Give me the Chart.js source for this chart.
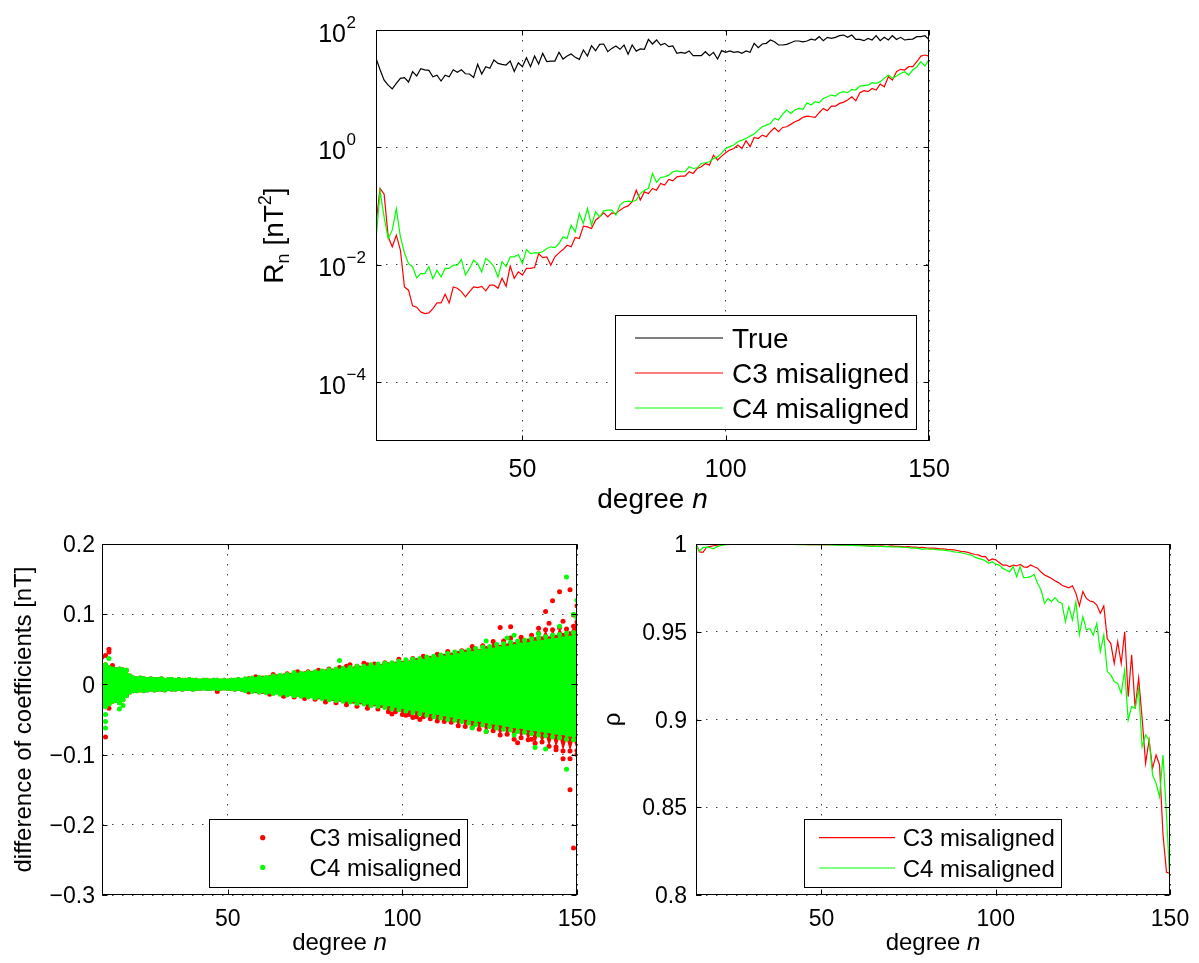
<!DOCTYPE html>
<html>
<head>
<meta charset="utf-8">
<script src="https://cdn.jsdelivr.net/npm/chart.js@4.4.0/dist/chart.umd.min.js"></script>
<style>
  html, body { margin: 0; padding: 0; background: #fff; }
  #page { position: relative; width: 1199px; height: 963px; background: #fff; overflow: hidden; }
  canvas { position: absolute; }
</style>
</head>
<body>
<div id="page">
  <canvas id="topChart" width="700" height="520" style="left:250px;top:0"></canvas>
  <canvas id="diffChart" width="600" height="443" style="left:0;top:520px"></canvas>
  <canvas id="rhoChart" width="599" height="443" style="left:600px;top:520px"></canvas>
</div>
<script>
// ====== DATA ======
const nFirst = 14;
const degrees = Array.from({ length: 137 }, (_, i) => nFirst + i); // n = 14 .. 150
const xTicks = [50, 100, 150];
const seriesNames = ['True', 'C3 misaligned', 'C4 misaligned'];

// top: R_n [nT^2], n = 14..150
const rnTrue = [
  33, 21, 14, 11.5, 9.9, 12.3, 15, 15.5, 13, 19.5,
  16.5, 22, 21, 20.5, 16, 17, 13.5, 17, 16, 21,
  19, 21, 18, 17.8, 15.5, 26, 17.8, 23.7, 22.3, 30.8,
  27, 26, 25.3, 29.6, 19.6, 27.7, 23.7, 33.8, 23.7, 36,
  26.3, 40, 29, 29.6, 29.6, 41.7, 32, 36, 39, 34.2,
  31.6, 45.6, 36, 54, 44.4, 57, 57.7, 42.8, 48.6, 53.4,
  46.9, 55.5, 38.5, 55.5, 43.7, 47.5, 46.9, 69, 57.7, 67.6,
  55.5, 59.3, 52, 53.4, 40, 41.6, 40, 44, 36.5, 36.5,
  36.5, 42.7, 36.5, 41.6, 32, 44.5, 41.6, 44, 41.6, 42.7,
  40, 44, 41.6, 59.3, 50, 57.7, 59.3, 67.6, 63, 55.5,
  55.5, 57, 60.8, 65, 65, 63, 65, 70, 67.6, 77,
  65.8, 75, 72, 75, 80, 82, 75, 82, 69, 69,
  65.8, 72, 67.6, 80, 65.8, 75, 67.6, 80, 69, 75,
  67.6, 69, 70, 77, 77, 80, 69
];
const rnC3 = [
  0.05, 0.2, 0.16, 0.03, 0.0203, 0.032, 0.0178, 0.0042, 0.0037, 0.002,
  0.0019, 0.00158, 0.00148, 0.00152, 0.0018, 0.00225, 0.00225, 0.00316, 0.00225, 0.0042,
  0.004, 0.0035, 0.00285, 0.0035, 0.0042, 0.0041, 0.0043, 0.0036, 0.0045, 0.0045,
  0.004, 0.0059, 0.0043, 0.0095, 0.0059, 0.0076, 0.0067, 0.0087, 0.0087, 0.009,
  0.0156, 0.0133, 0.0137, 0.0099, 0.0137, 0.016, 0.0182, 0.0216, 0.0203, 0.0292,
  0.0281, 0.0456, 0.0444, 0.0416, 0.0577, 0.0658, 0.0769, 0.0658, 0.0769, 0.075,
  0.0855, 0.0949, 0.101, 0.119, 0.187, 0.127, 0.175, 0.164, 0.2, 0.187,
  0.243, 0.228, 0.285, 0.27, 0.316, 0.324, 0.324, 0.385, 0.36, 0.44,
  0.468, 0.533, 0.5, 0.74, 0.61, 0.71, 0.81, 0.9, 0.96, 1.1,
  0.96, 1.3, 1.03, 1.48, 1.42, 1.62, 1.52, 1.85, 2.16, 1.85,
  2.19, 2.25, 2.47, 2.74, 2.92, 3.25, 3.42, 3.33, 3.25, 3.9,
  4.62, 4.22, 5.07, 5.07, 5.62, 5.92, 6.41, 7.3, 6.24, 8.55,
  9.25, 8.9, 10.1, 9.5, 12, 10.8, 16, 14.1, 19.5, 21.4,
  20.8, 23.7, 23.7, 28.8, 36, 37.5, 36
];
const rnC4 = [
  0.026, 0.18, 0.065, 0.028, 0.039, 0.091, 0.03, 0.016, 0.0105, 0.0093,
  0.006, 0.0071, 0.0071, 0.0093, 0.0058, 0.0081, 0.0062, 0.0087, 0.0087, 0.0099,
  0.0099, 0.0123, 0.0067, 0.0087, 0.012, 0.0105, 0.0076, 0.0128, 0.0113, 0.0093,
  0.0062, 0.0113, 0.0093, 0.0137, 0.0137, 0.015, 0.0105, 0.0182, 0.0156, 0.016,
  0.016, 0.0167, 0.019, 0.0203, 0.0197, 0.0231, 0.03, 0.0281, 0.0474, 0.0365,
  0.075, 0.0507, 0.0912, 0.0474, 0.08, 0.0658, 0.0832, 0.0855, 0.0855, 0.0703,
  0.104, 0.119, 0.1217, 0.119, 0.127, 0.164, 0.187, 0.2, 0.36, 0.253,
  0.308, 0.316, 0.337, 0.385, 0.4, 0.385, 0.385, 0.468, 0.438, 0.45,
  0.533, 0.548, 0.57, 0.65, 0.69, 0.8, 0.96, 1.03, 1.1, 1.25,
  1.33, 1.42, 1.56, 1.69, 1.97, 2.25, 2.4, 2.56, 3.12, 2.92,
  3.7, 4.33, 3.8, 4.33, 4.62, 4.45, 5.77, 5.27, 6.0, 5.77,
  6.84, 7.3, 7.8, 7.5, 8.55, 8.9, 8.55, 9.75, 9.5, 11.1,
  11.3, 11.5, 12.7, 12.3, 13.2, 15, 17.1, 15, 16.4, 18.2,
  19.5, 17.1, 20.8, 23.7, 28.8, 24.3, 31.6
];
const rnTicks = [1e-4, 1e-2, 1, 1e2];

// bottom right: correlation rho, n = 14..150
const rhoC3 = [
  1.0, 0.9955, 0.9952, 0.998, 0.9985, 0.999, 0.9993, 0.9996, 0.9998, 0.9999,
  0.9999, 1.0, 0.9999, 1.0, 0.9999, 0.9999, 1.0, 0.9999, 0.9999, 0.9999,
  0.9999, 0.9998, 0.9999, 0.9999, 0.9998, 0.9999, 0.9999, 0.9998, 0.9998, 0.9998,
  0.9998, 0.9998, 0.9997, 0.9998, 0.9997, 0.9997, 0.9997, 0.9997, 0.9996, 0.9996,
  0.9996, 0.9995, 0.9995, 0.9995, 0.9994, 0.9994, 0.9993, 0.9993, 0.9992, 0.9991,
  0.9988, 0.999, 0.9987, 0.999, 0.9988, 0.9987, 0.9989, 0.9986, 0.9986, 0.9985,
  0.9984, 0.9985, 0.9982, 0.9982, 0.998, 0.9981, 0.9978, 0.9977, 0.9977, 0.9975,
  0.9972, 0.9973, 0.9969, 0.9968, 0.9966, 0.9963, 0.9958, 0.9957, 0.9952, 0.9946,
  0.994, 0.9938, 0.9928, 0.993, 0.9905, 0.9915, 0.991, 0.9895, 0.988, 0.988,
  0.987, 0.988, 0.9875, 0.9884, 0.987, 0.9867, 0.988, 0.987, 0.9862, 0.984,
  0.9823, 0.9814, 0.9804, 0.979, 0.978, 0.9765, 0.9757, 0.975, 0.9762, 0.972,
  0.9647, 0.973, 0.969, 0.9675, 0.967, 0.9652, 0.9605, 0.9647, 0.946, 0.9434,
  0.932, 0.9443, 0.932, 0.95, 0.913, 0.9368, 0.9064, 0.9235, 0.9007, 0.875,
  0.8883, 0.8722, 0.8798, 0.8741, 0.8342, 0.8129, 0.8123
];
const rhoC4 = [
  0.9995, 0.996, 0.998, 0.9982, 0.998, 0.9972, 0.9985, 0.999, 0.9995, 0.9998,
  0.9999, 0.9999, 1.0, 0.9999, 0.9999, 1.0, 0.9999, 0.9999, 0.9999, 0.9999,
  0.9999, 0.9998, 0.9998, 0.9999, 0.9998, 0.9998, 0.9998, 0.9998, 0.9998, 0.9997,
  0.9997, 0.9997, 0.9997, 0.9997, 0.9996, 0.9996, 0.9996, 0.9996, 0.9995, 0.9995,
  0.9994, 0.9994, 0.9993, 0.9993, 0.9992, 0.9992, 0.9991, 0.999, 0.9989, 0.999,
  0.9988, 0.9987, 0.9988, 0.9986, 0.9985, 0.9985, 0.9984, 0.9983, 0.9983, 0.9982,
  0.998, 0.998, 0.9977, 0.9976, 0.9975, 0.997, 0.9973, 0.997, 0.9971, 0.9968,
  0.9966, 0.9965, 0.9962, 0.996, 0.9955, 0.9953, 0.995, 0.9946, 0.994, 0.9937,
  0.9925, 0.9918, 0.9912, 0.9905, 0.989, 0.9899, 0.9885, 0.988, 0.9861, 0.985,
  0.9842, 0.9871, 0.9814, 0.9871, 0.9808, 0.981, 0.9814, 0.9827, 0.9776, 0.9738,
  0.9662, 0.969, 0.9671, 0.9694, 0.9671, 0.9662, 0.9557, 0.9643, 0.9567, 0.9671,
  0.9485, 0.9586, 0.951, 0.9519, 0.9481, 0.9548, 0.9387, 0.9481, 0.9273, 0.9254,
  0.9216, 0.9206, 0.915, 0.9282, 0.8997, 0.9073, 0.9064, 0.9174, 0.8845, 0.8912,
  0.8883, 0.8684, 0.8636, 0.856, 0.8798, 0.8456, 0.8057
];
const rhoTicks = [0.8, 0.85, 0.9, 0.95, 1];

// bottom left: coefficient differences [nT]; upper / lower edge of the dense cloud per degree
const diffC3Hi = [
  0.026, 0.028, 0.024, 0.022, 0.021, 0.022, 0.021, 0.02, 0.012, 0.009,
  0.008, 0.009, 0.008, 0.007, 0.008, 0.007, 0.007, 0.008, 0.006, 0.007,
  0.007, 0.006, 0.007, 0.006, 0.006, 0.007, 0.006, 0.006, 0.005, 0.006,
  0.006, 0.005, 0.006, 0.006, 0.005, 0.006, 0.005, 0.006, 0.006, 0.007,
  0.006, 0.007, 0.008, 0.007, 0.011, 0.009, 0.009, 0.008, 0.01, 0.014,
  0.011, 0.01, 0.012, 0.015, 0.013, 0.012, 0.018, 0.013, 0.015, 0.018,
  0.016, 0.015, 0.02, 0.016, 0.018, 0.022, 0.019, 0.018, 0.024, 0.019,
  0.026, 0.02, 0.022, 0.026, 0.023, 0.022, 0.028, 0.025, 0.029, 0.026,
  0.026, 0.031, 0.028, 0.027, 0.029, 0.036, 0.03, 0.032, 0.031, 0.037,
  0.034, 0.033, 0.04, 0.036, 0.037, 0.036, 0.043, 0.038, 0.04, 0.047,
  0.042, 0.041, 0.044, 0.048, 0.046, 0.045, 0.054, 0.048, 0.047, 0.055,
  0.051, 0.05, 0.061, 0.054, 0.053, 0.062, 0.055, 0.066, 0.057, 0.059,
  0.067, 0.059, 0.062, 0.07, 0.064, 0.073, 0.065, 0.078, 0.065, 0.078,
  0.067, 0.081, 0.07, 0.079, 0.072, 0.083, 0.089
];
const diffC3Lo = [
  -0.03, -0.032, -0.028, -0.024, -0.023, -0.026, -0.022, -0.016, -0.011, -0.009,
  -0.009, -0.008, -0.009, -0.008, -0.007, -0.008, -0.007, -0.007, -0.008, -0.006,
  -0.007, -0.007, -0.006, -0.007, -0.006, -0.006, -0.007, -0.006, -0.006, -0.005,
  -0.006, -0.006, -0.005, -0.006, -0.006, -0.005, -0.006, -0.006, -0.007, -0.006,
  -0.007, -0.008, -0.011, -0.008, -0.009, -0.011, -0.01, -0.009, -0.014, -0.011,
  -0.011, -0.012, -0.017, -0.013, -0.013, -0.018, -0.014, -0.015, -0.02, -0.016,
  -0.016, -0.021, -0.018, -0.017, -0.025, -0.019, -0.02, -0.026, -0.021, -0.022,
  -0.029, -0.023, -0.024, -0.031, -0.025, -0.026, -0.034, -0.028, -0.028, -0.035,
  -0.03, -0.031, -0.039, -0.033, -0.039, -0.034, -0.043, -0.036, -0.043, -0.038,
  -0.046, -0.04, -0.046, -0.042, -0.049, -0.044, -0.052, -0.046, -0.053, -0.047,
  -0.054, -0.049, -0.059, -0.05, -0.06, -0.052, -0.061, -0.054, -0.064, -0.056,
  -0.067, -0.058, -0.066, -0.06, -0.072, -0.061, -0.071, -0.063, -0.078, -0.064,
  -0.076, -0.066, -0.079, -0.068, -0.084, -0.07, -0.082, -0.072, -0.088, -0.073,
  -0.089, -0.075, -0.095, -0.077, -0.095, -0.078, -0.094
];
const diffC4Hi = [
  0.026, 0.028, 0.024, 0.022, 0.021, 0.022, 0.021, 0.02, 0.012, 0.009,
  0.008, 0.009, 0.008, 0.007, 0.008, 0.007, 0.007, 0.008, 0.006, 0.007,
  0.007, 0.006, 0.007, 0.006, 0.006, 0.007, 0.006, 0.006, 0.005, 0.006,
  0.006, 0.005, 0.006, 0.006, 0.005, 0.006, 0.005, 0.006, 0.006, 0.007,
  0.006, 0.008, 0.007, 0.009, 0.007, 0.01, 0.008, 0.01, 0.009, 0.012,
  0.01, 0.013, 0.011, 0.014, 0.012, 0.015, 0.013, 0.016, 0.014, 0.017,
  0.015, 0.018, 0.016, 0.019, 0.017, 0.021, 0.018, 0.022, 0.019, 0.023,
  0.02, 0.024, 0.021, 0.026, 0.022, 0.026, 0.023, 0.028, 0.024, 0.029,
  0.025, 0.03, 0.027, 0.031, 0.028, 0.033, 0.029, 0.035, 0.03, 0.036,
  0.032, 0.037, 0.033, 0.039, 0.035, 0.04, 0.036, 0.042, 0.038, 0.044,
  0.039, 0.046, 0.041, 0.047, 0.043, 0.049, 0.044, 0.051, 0.046, 0.053,
  0.048, 0.054, 0.049, 0.057, 0.051, 0.058, 0.052, 0.06, 0.054, 0.062,
  0.056, 0.063, 0.057, 0.065, 0.059, 0.066, 0.06, 0.068, 0.062, 0.07,
  0.063, 0.071, 0.065, 0.073, 0.066, 0.074, 0.068
];
const diffC4Lo = [
  -0.03, -0.032, -0.028, -0.024, -0.023, -0.026, -0.022, -0.016, -0.011, -0.009,
  -0.009, -0.008, -0.009, -0.008, -0.007, -0.008, -0.007, -0.007, -0.008, -0.006,
  -0.007, -0.007, -0.006, -0.007, -0.006, -0.006, -0.007, -0.006, -0.006, -0.005,
  -0.006, -0.006, -0.005, -0.006, -0.006, -0.005, -0.006, -0.006, -0.007, -0.006,
  -0.007, -0.009, -0.007, -0.01, -0.008, -0.011, -0.009, -0.012, -0.01, -0.013,
  -0.011, -0.014, -0.012, -0.015, -0.013, -0.016, -0.014, -0.017, -0.015, -0.018,
  -0.016, -0.019, -0.017, -0.02, -0.018, -0.022, -0.019, -0.023, -0.02, -0.024,
  -0.021, -0.025, -0.022, -0.027, -0.023, -0.028, -0.025, -0.03, -0.026, -0.031,
  -0.027, -0.033, -0.028, -0.035, -0.03, -0.036, -0.032, -0.038, -0.034, -0.04,
  -0.035, -0.042, -0.037, -0.044, -0.039, -0.046, -0.04, -0.048, -0.042, -0.05,
  -0.044, -0.051, -0.046, -0.053, -0.047, -0.055, -0.049, -0.057, -0.05, -0.058,
  -0.052, -0.06, -0.054, -0.062, -0.055, -0.064, -0.057, -0.065, -0.059, -0.067,
  -0.06, -0.068, -0.062, -0.07, -0.063, -0.072, -0.065, -0.073, -0.066, -0.075,
  -0.068, -0.076, -0.069, -0.078, -0.071, -0.079, -0.072
];
// single points lying outside the cloud
const strayC3Deg = [14, 15, 16, 16, 17, 15, 15, 16, 19, 47, 66, 85, 89, 97, 101, 103, 105, 128, 131, 133,
  137, 139, 141, 143, 145, 148, 146, 149, 150, 144, 146, 148, 148, 149, 150, 142];
const strayC3Val = [0.039, 0.041, 0.05, 0.046, 0.027, -0.075, -0.027, -0.034, -0.016, -0.01, -0.016, 0.028, 0.03,
  -0.042, -0.044, -0.047, -0.05, 0.081, 0.082, -0.083, -0.078, 0.08, 0.104, 0.119, 0.132, 0.135, 0.09, 0.099,
  0.112, -0.093, -0.106, -0.106, -0.15, -0.233, -0.1, 0.087];
const strayC4Deg = [14, 16, 15, 15, 15, 19, 20, 69, 82, 124, 130, 132, 141, 139, 145, 147, 150, 149, 150, 147,
  120, 124, 132, 138];
const strayC4Val = [0.026, 0.037, -0.043, -0.053, -0.062, -0.035, -0.03, 0.017, 0.034, 0.062, 0.066, 0.07,
  -0.092, 0.072, 0.083, 0.153, 0.12, 0.1, 0.095, -0.121, -0.062, -0.067, -0.072, -0.09];
const diffTicks = [-0.3, -0.2, -0.1, 0, 0.1, 0.2];

// ====== STYLE ======
const FONT = '"Liberation Sans", Arial, Helvetica, sans-serif';
const GRID = 'rgba(0,0,0,0.75)';
const BLACK = '#000000', RED = '#ff0000', GREEN = '#00ff00';

const pts = ys => degrees.map((n, i) => ({ x: n, y: ys[i] }));
const pairs = (xs, ys) => xs.map((x, i) => ({ x, y: ys[i] }));
const minus = v => (v < 0 ? '\u2212' : '') + String(Math.abs(v));

function xAxis(h){
  return { type: 'linear', min: 14, max: 150, bounds: 'data',
    afterBuildTicks: s => { s.ticks = xTicks.map(v => ({ value: v })); },
    afterFit: s => { s.height = h; },
    ticks: { display: false },
    grid: { color: GRID, lineWidth: 1, drawTicks: false },
    border: { display: false, dash: [1.5, 8.5] } };
}
function yAxis(type, min, max, ticks, w){
  return { type, min, max, bounds: 'data',
    afterBuildTicks: s => { s.ticks = ticks.map(v => ({ value: v })); },
    afterFit: s => { s.width = w; },
    ticks: { display: false },
    grid: { color: GRID, lineWidth: 1, drawTicks: false },
    border: { display: false, dash: [1.5, 8.5] } };
}

// ====== DECOR (frame, tick labels, titles, legend) ======
function drawDegree(ctx, cx, base, px){
  ctx.font = px + 'px ' + FONT; const w1 = ctx.measureText('degree ').width;
  ctx.font = 'italic ' + px + 'px ' + FONT; const w2 = ctx.measureText('n').width;
  const x = cx - (w1 + w2) / 2;
  ctx.textAlign = 'left';
  ctx.font = px + 'px ' + FONT; ctx.fillText('degree ', x, base);
  ctx.font = 'italic ' + px + 'px ' + FONT; ctx.fillText('n', x + w1, base);
}
function drawRich(ctx, parts, cx, cy, base){ // rotated text made of [text, px, dy] pieces
  ctx.save(); ctx.translate(base, cy); ctx.rotate(-Math.PI / 2);
  ctx.textAlign = 'left'; ctx.textBaseline = 'alphabetic';
  let total = 0;
  for (const p of parts){ ctx.font = p[1] + 'px ' + FONT; total += ctx.measureText(p[0]).width; }
  let x = -total / 2;
  for (const p of parts){ ctx.font = p[1] + 'px ' + FONT; ctx.fillText(p[0], x, p[2]); x += ctx.measureText(p[0]).width; }
  ctx.restore();
}
function drawLegend(ctx, lg){
  const [x0, y0, x1, y1] = lg.box;
  ctx.fillStyle = '#fff'; ctx.fillRect(x0, y0, x1 - x0, y1 - y0);
  ctx.strokeStyle = '#000'; ctx.lineWidth = 1; ctx.strokeRect(x0 + 0.5, y0 + 0.5, x1 - x0 - 1, y1 - y0 - 1);
  ctx.font = lg.px + 'px ' + FONT; ctx.textAlign = 'left'; ctx.textBaseline = 'alphabetic';
  lg.items.forEach(it => {
    if (lg.dotX){
      ctx.fillStyle = it.color; ctx.beginPath(); ctx.arc(lg.dotX, it.y, 2.6, 0, Math.PI * 2); ctx.fill();
    } else {
      ctx.strokeStyle = it.color; ctx.lineWidth = 1.2; ctx.beginPath();
      ctx.moveTo(lg.sample[0], it.y); ctx.lineTo(lg.sample[1], it.y); ctx.stroke();
    }
    ctx.fillStyle = '#000'; ctx.fillText(it.label, lg.textX, it.y + lg.capHalf);
  });
}
function decor(o){
  return { id: 'decor', afterDraw(chart){
    const ctx = chart.ctx, a = chart.chartArea, sx = chart.scales.x, sy = chart.scales.y;
    ctx.save();
    const L = Math.round(a.left) + 0.5, R = Math.round(a.right) - 0.5, T = Math.round(a.top) + 0.5, B = Math.round(a.bottom) - 0.5;
    ctx.strokeStyle = '#000'; ctx.lineWidth = 1; ctx.beginPath();
    for (const v of xTicks){ const x = Math.round(sx.getPixelForValue(v)) + 0.5; ctx.moveTo(x, B); ctx.lineTo(x, B - 5); ctx.moveTo(x, T); ctx.lineTo(x, T + 5); }
    for (const v of o.yTicks){ const y = Math.round(sy.getPixelForValue(v)) + 0.5; ctx.moveTo(L, y); ctx.lineTo(L + 5, y); ctx.moveTo(R, y); ctx.lineTo(R - 5, y); }
    ctx.stroke();
    ctx.strokeRect(L, T, R - L, B - T);
    ctx.fillStyle = '#000'; ctx.textBaseline = 'alphabetic';
    ctx.font = o.tickPx + 'px ' + FONT; ctx.textAlign = 'center';
    for (const v of xTicks) ctx.fillText(String(v), sx.getPixelForValue(v), o.xLabelBase);
    for (const v of o.yTicks) o.yLabel(ctx, v, sy.getPixelForValue(v));
    drawDegree(ctx, (a.left + a.right) / 2, o.xTitleBase, o.titlePx);
    o.yTitle(ctx, (a.top + a.bottom) / 2);
    drawLegend(ctx, o.legend);
    ctx.restore();
  } };
}

const baseOpts = (pad, scales) => ({
  responsive: false, animation: false, events: [],
  layout: { padding: pad },
  plugins: { legend: { display: false }, tooltip: { enabled: false } },
  scales
});

// ====== TOP: R_n ======
new Chart(document.getElementById('topChart'), {
  type: 'line',
  data: { datasets: [
    { label: seriesNames[0], data: pts(rnTrue), borderColor: BLACK, borderWidth: 1.2, pointRadius: 0, order: 2 },
    { label: seriesNames[1], data: pts(rnC3), borderColor: RED, borderWidth: 1.2, pointRadius: 0, order: 1 },
    { label: seriesNames[2], data: pts(rnC4), borderColor: GREEN, borderWidth: 1.2, pointRadius: 0, order: 0 }
  ] },
  options: baseOpts({ left: 0, top: 30, right: 21, bottom: 0 }, {
    x: xAxis(79),
    y: yAxis('logarithmic', 1e-5, 1e2, rnTicks, 126)
  }),
  plugins: [decor({
    yTicks: rnTicks, tickPx: 25, xLabelBase: 477, xTitleBase: 508, titlePx: 28,
    yLabel(ctx, v, y){
      const e = Math.round(Math.log10(v));
      ctx.textAlign = 'right'; ctx.font = '25px ' + FONT; ctx.fillText('10', 96, y + 11.5);
      ctx.textAlign = 'left'; ctx.font = '17px ' + FONT; ctx.fillText(minus(e), 96.5, y - 2);
    },
    yTitle(ctx, cy){ drawRich(ctx, [['R', 28, 0], ['n', 18, 6], [' [nT', 28, 0], ['2', 18, -12], [']', 28, 0]], 0, cy, 33); },
    legend: { box: [365, 315, 667, 430], px: 28, capHalf: 10, sample: [385, 473], textX: 482,
      items: [{ label: seriesNames[0], color: BLACK, y: 338 }, { label: seriesNames[1], color: RED, y: 373 }, { label: seriesNames[2], color: GREEN, y: 408 }] }
  })]
});

// ====== BOTTOM LEFT: coefficient differences ======
const band = (ys, color, fill, order) => ({ type: 'line', data: pts(ys), borderWidth: 0, borderColor: 'rgba(0,0,0,0)',
  backgroundColor: color, fill, pointRadius: 2.5, pointBackgroundColor: color, pointBorderWidth: 0, order });
new Chart(document.getElementById('diffChart'), {
  type: 'line',
  data: { datasets: [
    band(diffC3Lo, RED, false, 5),
    band(diffC3Hi, RED, '-1', 4),
    { type: 'scatter', label: seriesNames[1], data: pairs(strayC3Deg, strayC3Val), backgroundColor: RED, pointRadius: 2.5, pointBorderWidth: 0, order: 3 },
    band(diffC4Lo, GREEN, false, 2),
    band(diffC4Hi, GREEN, '-1', 1),
    { type: 'scatter', label: seriesNames[2], data: pairs(strayC4Deg, strayC4Val), backgroundColor: GREEN, pointRadius: 2.5, pointBorderWidth: 0, order: 0 }
  ] },
  options: baseOpts({ left: 0, top: 24, right: 23, bottom: 0 }, {
    x: xAxis(68),
    y: yAxis('linear', -0.3, 0.2, diffTicks, 102)
  }),
  plugins: [decor({
    yTicks: diffTicks, tickPx: 23, xLabelBase: 406, xTitleBase: 430, titlePx: 24,
    yLabel(ctx, v, y){ ctx.textAlign = 'right'; ctx.font = '23px ' + FONT; ctx.fillText(minus(v), 95, y + 8.2); },
    yTitle(ctx, cy){ drawRich(ctx, [['difference of coefficients [nT]', 24, 0]], 0, cy, 31); },
    legend: { box: [209, 299, 468, 368], px: 24, capHalf: 8.5, dotX: 262.7, textX: 309.6,
      items: [{ label: seriesNames[1], color: RED, y: 317.7 }, { label: seriesNames[2], color: GREEN, y: 347.4 }] }
  })]
});

// ====== BOTTOM RIGHT: rho ======
new Chart(document.getElementById('rhoChart'), {
  type: 'line',
  data: { datasets: [
    { label: seriesNames[1], data: pts(rhoC3), borderColor: RED, borderWidth: 1.2, pointRadius: 0, order: 1 },
    { label: seriesNames[2], data: pts(rhoC4), borderColor: GREEN, borderWidth: 1.2, pointRadius: 0, order: 0 }
  ] },
  options: baseOpts({ left: 0, top: 24, right: 29, bottom: 0 }, {
    x: xAxis(68),
    y: yAxis('linear', 0.8, 1, rhoTicks, 96)
  }),
  plugins: [decor({
    yTicks: rhoTicks, tickPx: 23, xLabelBase: 406, xTitleBase: 430, titlePx: 24,
    yLabel(ctx, v, y){ ctx.textAlign = 'right'; ctx.font = '23px ' + FONT; ctx.fillText(String(v), 87, y + 8.2); },
    yTitle(ctx, cy){ drawRich(ctx, [['\u03c1', 24, 0]], 0, cy, 20); },
    legend: { box: [204, 299, 462, 368], px: 24, capHalf: 8.5, sample: [219, 295], textX: 302.7,
      items: [{ label: seriesNames[1], color: RED, y: 317.7 }, { label: seriesNames[2], color: GREEN, y: 348 }] }
  })]
});
</script>
</body>
</html>
